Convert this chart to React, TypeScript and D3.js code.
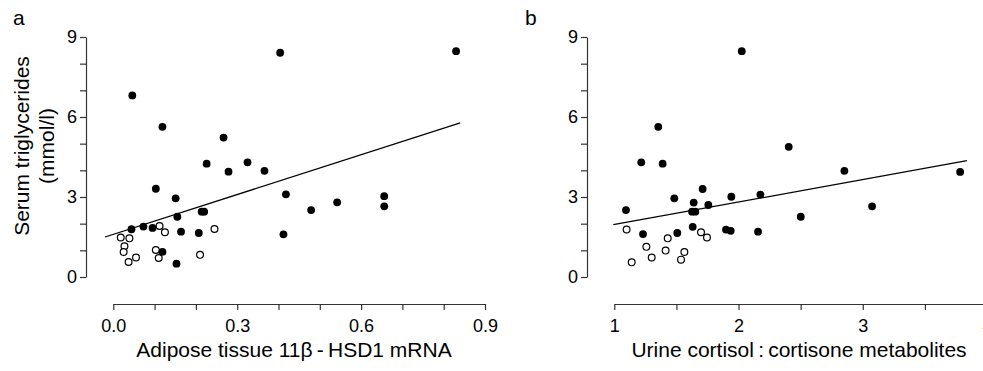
import { useEffect, useRef } from 'react';
import * as d3 from 'd3';

// panel a: adipose 11b-HSD1 mRNA vs serum triglycerides
const filledA: [number, number][] = [
  [0.830, 8.47], [0.404, 8.41], [0.046, 6.81], [0.119, 5.63], [0.267, 5.23],
  [0.226, 4.25], [0.325, 4.30], [0.279, 3.95], [0.366, 3.98], [0.103, 3.31],
  [0.151, 2.95], [0.418, 3.10], [0.656, 3.03], [0.656, 2.65], [0.542, 2.80],
  [0.479, 2.51], [0.214, 2.45], [0.220, 2.45], [0.155, 2.26], [0.044, 1.79],
  [0.073, 1.89], [0.095, 1.84], [0.164, 1.70], [0.207, 1.65], [0.412, 1.60],
  [0.119, 0.94], [0.153, 0.50],
];
const openA: [number, number][] = [
  [0.018, 1.48], [0.039, 1.45], [0.027, 1.15], [0.025, 0.94], [0.037, 0.56],
  [0.055, 0.73], [0.112, 1.91], [0.125, 1.68], [0.103, 1.01], [0.110, 0.71],
  [0.245, 1.80], [0.210, 0.83],
];
const fitA: [number, number][] = [[-0.02, 1.5], [0.84, 5.78]];

// panel b: urine cortisol:cortisone metabolites vs serum triglycerides
const filledB: [number, number][] = [
  [2.026, 8.47], [1.354, 5.63], [2.404, 4.88], [1.217, 4.30], [1.389, 4.25],
  [2.852, 3.98], [3.784, 3.94], [1.711, 3.30], [1.483, 2.95], [1.942, 3.01],
  [2.176, 3.09], [1.639, 2.79], [1.757, 2.70], [3.075, 2.65], [1.094, 2.51],
  [1.626, 2.45], [1.652, 2.45], [2.501, 2.26], [1.631, 1.88], [1.899, 1.78],
  [1.937, 1.73], [2.157, 1.70], [1.231, 1.61], [1.507, 1.65],
];
const openB: [number, number][] = [
  [1.099, 1.78], [1.140, 0.55], [1.258, 1.13], [1.301, 0.73], [1.430, 1.45],
  [1.413, 0.99], [1.537, 0.65], [1.564, 0.94], [1.698, 1.68], [1.746, 1.48],
];
const fitB: [number, number][] = [[0.992, 1.96], [3.838, 4.36]];

const yTicks = [0, 1, 2, 3, 4, 5, 6, 7, 8, 9];
const yLabels = [0, 3, 6, 9];
const xTicksA = [0, 0.1, 0.2, 0.3, 0.4, 0.5, 0.6, 0.7, 0.8, 0.9];
const xLabelsA = [0, 0.3, 0.6, 0.9];
const xTicksB = [1, 1.5, 2, 2.5, 3, 3.5, 4];
const xLabelsB = [1, 2, 3, 4];

const FONT = '"Liberation Sans", Arial, sans-serif';

export default function App() {
  const svgRef = useRef<SVGSVGElement>(null);

  useEffect(() => {
    document.body.style.margin = '0';
    if (!svgRef.current) return;
    const svg = d3.select(svgRef.current);
    svg.selectAll('*').remove();

    const y = d3.scaleLinear().domain([0, 9]).range([277, 37]);
    const axisY = 304;

    const panel = (opts: {
      axisX: number;
      x: d3.ScaleLinear<number, number>;
      xTicks: number[];
      xLabels: number[];
      fmt: (d: number) => string;
      filled: [number, number][];
      open: [number, number][];
      fit: [number, number][];
      letter: string;
      letterX: number;
      xTitle: string;
      xTitleX: number;
    }) => {
      const g = svg.append('g');

      // y axis
      const ya = g.append('g')
        .attr('transform', `translate(${opts.axisX},0)`)
        .call(
          d3.axisLeft(y)
            .tickValues(yTicks)
            .tickSize(6)
            .tickSizeOuter(0)
            .tickPadding(3)
            .tickFormat((d) => (yLabels.includes(+d) ? String(d) : ''))
        );

      // x axis
      const xa = g.append('g')
        .attr('transform', `translate(0,${axisY})`)
        .call(
          d3.axisBottom(opts.x)
            .tickValues(opts.xTicks)
            .tickSize(6)
            .tickSizeOuter(0)
            .tickPadding(9)
            .tickFormat((d) =>
              opts.xLabels.some((v) => Math.abs(v - +d) < 1e-9) ? opts.fmt(+d) : ''
            )
        );

      [ya, xa].forEach((a) => {
        a.selectAll('path, line').attr('stroke', '#333').attr('stroke-width', 1.2);
        a.selectAll('text')
          .attr('fill', '#000')
          .attr('font-family', FONT)
          .attr('font-size', 18);
      });

      // regression line
      g.append('path')
        .attr('d', d3.line<[number, number]>()
          .x((d) => opts.x(d[0]))
          .y((d) => y(d[1]))(opts.fit))
        .attr('fill', 'none')
        .attr('stroke', '#000')
        .attr('stroke-width', 1.3);

      g.selectAll('.open')
        .data(opts.open)
        .enter()
        .append('circle')
        .attr('cx', (d) => opts.x(d[0]))
        .attr('cy', (d) => y(d[1]))
        .attr('r', 3.4)
        .attr('fill', '#fff')
        .attr('stroke', '#000')
        .attr('stroke-width', 1.2);

      g.selectAll('.filled')
        .data(opts.filled)
        .enter()
        .append('circle')
        .attr('cx', (d) => opts.x(d[0]))
        .attr('cy', (d) => y(d[1]))
        .attr('r', 3.9)
        .attr('fill', '#000');

      g.append('text')
        .attr('x', opts.letterX)
        .attr('y', 25)
        .attr('font-family', FONT)
        .attr('font-size', 21)
        .text(opts.letter);

      g.append('text')
        .attr('x', opts.xTitleX)
        .attr('y', 357)
        .attr('text-anchor', 'middle')
        .attr('font-family', FONT)
        .attr('font-size', 21)
        .text(opts.xTitle);
    };

    panel({
      axisX: 86,
      x: d3.scaleLinear().domain([0, 0.9]).range([113.3, 485]),
      xTicks: xTicksA,
      xLabels: xLabelsA,
      fmt: d3.format('.1f'),
      filled: filledA,
      open: openA,
      fit: fitA,
      letter: 'a',
      letterX: 13,
      xTitle: 'Adipose tissue 11\u03B2\u2009-\u2009HSD1 mRNA',
      xTitleX: 294,
    });

    panel({
      axisX: 587,
      x: d3.scaleLinear().domain([1, 4]).range([614.3, 987]),
      xTicks: xTicksB,
      xLabels: xLabelsB,
      fmt: d3.format('d'),
      filled: filledB,
      open: openB,
      fit: fitB,
      letter: 'b',
      letterX: 525,
      xTitle: 'Urine cortisol\u2009:\u2009cortisone metabolites',
      xTitleX: 799,
    });

    // y title (panel a only)
    const yt = svg.append('g').attr('font-family', FONT).attr('font-size', 21);
    yt.append('text')
      .attr('transform', 'translate(29,146) rotate(-90)')
      .attr('text-anchor', 'middle')
      .text('Serum triglycerides');
    yt.append('text')
      .attr('transform', 'translate(54,146) rotate(-90)')
      .attr('text-anchor', 'middle')
      .text('(mmol/l)');
  }, []);

  return <svg ref={svgRef} width={983} height={371} style={{ display: 'block', background: '#fff' }} />;
}
